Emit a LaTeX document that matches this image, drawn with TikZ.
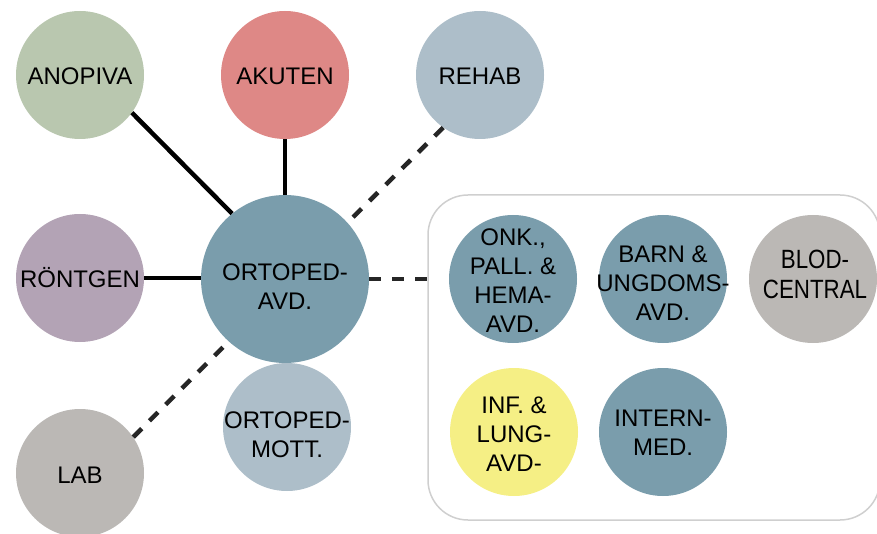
\documentclass[tikz,border=0pt]{standalone}
\usepackage{fontspec}
\setmainfont{Liberation Sans}
\begin{document}
\begin{tikzpicture}[x=1pt,y=-1pt,
  unit/.style={circle,minimum size=128pt,inner sep=0pt},
  hub/.style={unit,minimum size=168pt},
  caption/.style={inner sep=0pt,align=center,text=black,
    font=\fontsize{24}{29}\selectfont},
  link/.style={line width=4.5pt,black},
  loose/.style={line width=4.5pt,black!85,dash pattern=on 12pt off 11pt}]
\useasboundingbox (0,0) rectangle (877,534);
\definecolor{cgreen}{HTML}{B9C7AF}
\definecolor{cred}{HTML}{DE8886}
\definecolor{cpale}{HTML}{ADBEC9}
\definecolor{cmauve}{HTML}{B3A3B5}
\definecolor{cteal}{HTML}{7A9DAC}
\definecolor{cgrey}{HTML}{BBB8B5}
\definecolor{cyellow}{HTML}{F5EF85}
\definecolor{cframe}{HTML}{CFCFCF}

% frame around the other wards
\draw[cframe,line width=1.5pt,rounded corners=40pt] (428,195) rectangle (880,520);

% central ward and its neighbours
\node[hub,fill=cteal] (avd) at (285,279) {};
\node[unit,fill=cgreen] (anopiva) at (80,75) {};
\node[unit,fill=cred] (akuten) at (285,75) {};
\node[unit,fill=cpale] (rehab) at (480,75) {};
\node[unit,fill=cmauve] (rontgen) at (80,278) {};
\node[unit,fill=cgrey] (lab) at (80,473) {};
\node[unit,fill=cpale] (mott) at (287,427) {};
\coordinate (frameW) at (428,279);

% wards inside the frame
\node[unit,fill=cteal] (onk) at (513,279) {};
\node[unit,fill=cteal] (barn) at (663,279) {};
\node[unit,fill=cgrey] (blod) at (813,279) {};
\node[unit,fill=cyellow] (inf) at (514,432) {};
\node[unit,fill=cteal] (intern) at (663,432) {};

% ward names
\node[caption,anchor=base] (anopiva-t) at (80,84.5) {ANOPIVA};
\node[caption,anchor=base] (akuten-t) at (285,84.5) {AKUTEN};
\node[caption,anchor=base] (rehab-t) at (480,84.5) {REHAB};
\node[caption,anchor=base] (rontgen-t) at (80,287.5) {RÖNTGEN};
\node[caption,anchor=base] (lab-t) at (80,483) {LAB};
\node[caption] (avd-t) at (285,287) {ORTOPED-\\AVD.};
\node[caption] (mott-t) at (287,435) {ORTOPED-\\MOTT.};
\node[caption] (onk-t) at (513,281) {ONK.,\\PALL. \&\\HEMA-\\AVD.};
\node[caption] (barn-t) at (663,283) {BARN \&\\UNGDOMS-\\AVD.};
\node[caption] (blod-t) at (815,277) {\scalebox{0.93}[1.1]{\begin{tabular}{@{}c@{}}BLOD-\\[-2pt]CENTRAL\end{tabular}}};
\node[caption] (inf-t) at (514,434) {INF. \&\\LUNG-\\AVD-};
\node[caption] (intern-t) at (663,433) {INTERN-\\MED.};

% connections
\draw[link] (anopiva.-36) -- (avd.129);
\draw[link] (akuten) -- (avd);
\draw[link] (rontgen.east) -- (rontgen.east -| avd.west);
\draw[loose] (rehab.-125) -- (avd.42);
\draw[loose] (lab.34) -- (avd.228);
\draw[loose] (avd) -- (frameW);
\end{tikzpicture}
\end{document}
